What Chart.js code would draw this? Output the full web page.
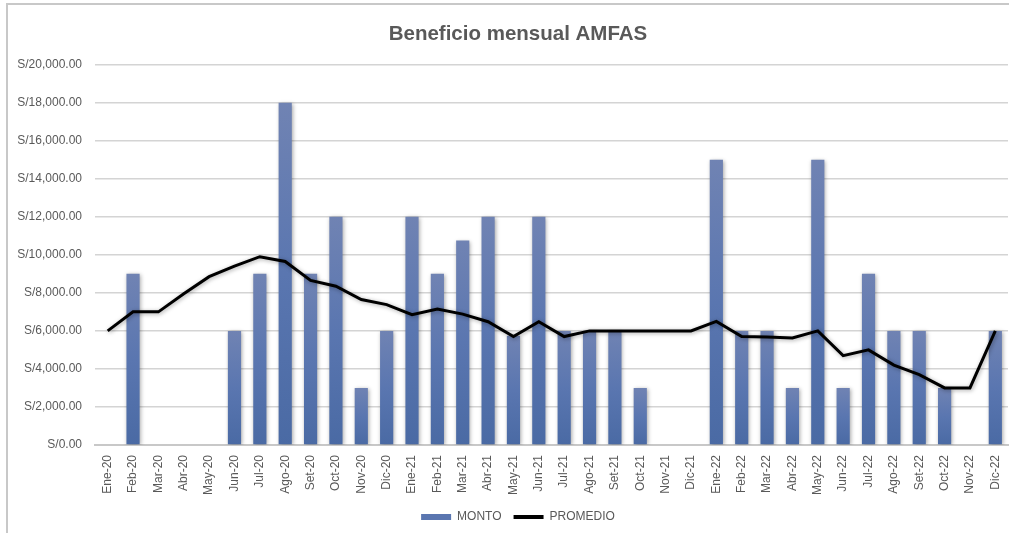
<!DOCTYPE html>
<html>
<head>
<meta charset="utf-8">
<script src="https://cdn.jsdelivr.net/npm/chart.js@4.4.1/dist/chart.umd.min.js"></script>
<style>
  html, body { margin: 0; padding: 0; background: #fff; }
  #wrap { position: relative; width: 1009px; height: 533px; }
  #frame { position: absolute; left: 6px; top: 3px; right: 0; bottom: 0;
           border-top: 2px solid #c8c8c8; border-left: 2px solid #c8c8c8; }
</style>
</head>
<body>
<div id="wrap">
  <div id="frame"></div>
  <canvas id="chart" width="1009" height="533"></canvas>
</div>
<script>
// months Ene-20 .. Dic-22
var months = ['Ene', 'Feb', 'Mar', 'Abr', 'May', 'Jun', 'Jul', 'Ago', 'Set', 'Oct', 'Nov', 'Dic'];
var years = ['20', '21', '22'];
var labels = [];
years.forEach(function (y) {
    months.forEach(function (m) { labels.push(m + '-' + y); });
});

var monto = [
    0, 9000, 0, 0, 0, 6000, 9000, 18000, 9000, 12000, 3000, 6000,
    12000, 9000, 10750, 12000, 5750, 12000, 6000, 6000, 6000, 3000, 0, 0,
    15000, 6000, 6000, 3000, 15000, 3000, 9000, 6000, 6000, 3000, 0, 6000
];
var promedio = [
    6000, 7000, 7000, 7950, 8850, 9400, 9900, 9650, 8650, 8350, 7650, 7380,
    6850, 7150, 6880, 6480, 5700, 6480, 5700, 6000, 6000, 6000, 6000, 6000,
    6500, 5700, 5680, 5630, 6000, 4700, 5000, 4200, 3700, 3000, 3000, 6000
];
var yTicks = [0, 2000, 4000, 6000, 8000, 10000, 12000, 14000, 16000, 18000, 20000];

var FONT = "'Liberation Sans', Arial, sans-serif";
var GREY = '#595959';

function barFill(ctx) {
    var chart = ctx.chart;
    if (!chart.chartArea || ctx.type !== 'data') return '#5a73ab';
    var ys = chart.scales.y;
    var top = ys.getPixelForValue(ctx.raw || 0);
    var bottom = ys.getPixelForValue(0);
    if (bottom - top < 1) return '#5a73ab';
    var g = chart.ctx.createLinearGradient(0, top, 0, bottom);
    g.addColorStop(0, '#7083b3');
    g.addColorStop(0.5, '#5a76b0');
    g.addColorStop(1, '#4a6aa4');
    return g;
}

// soft drop shadow like the spreadsheet
var shadowPlugin = {
    id: 'shadow',
    beforeDatasetDraw: function (chart) {
        var c = chart.ctx;
        c.save();
        c.shadowColor = 'rgba(0,0,0,0.35)';
        c.shadowBlur = 4;
        c.shadowOffsetX = 1;
        c.shadowOffsetY = 1;
    },
    afterDatasetDraw: function (chart) {
        chart.ctx.restore();
    }
};

// title and legend sit a bit right of the canvas centre in the original
var nudgePlugin = {
    id: 'nudge',
    afterLayout: function (chart) {
        [chart.titleBlock, chart.legend].forEach(function (b) {
            if (!b) return;
            b.left += 14;
            b.right += 14;
        });
    }
};

new Chart(document.getElementById('chart'), {
    type: 'bar',
    data: {
        labels: labels,
        datasets: [{
            label: 'MONTO',
            data: monto,
            backgroundColor: barFill,
            barPercentage: 0.52,
            categoryPercentage: 1,
            order: 2
        }, {
            type: 'line',
            label: 'PROMEDIO',
            data: promedio,
            borderColor: '#000',
            backgroundColor: '#000',
            borderWidth: 3,
            pointRadius: 0,
            tension: 0,
            order: 1
        }]
    },
    options: {
        responsive: false,
        animation: false,
        layout: { padding: { left: 0, right: 1, top: 0, bottom: 0 } },
        plugins: {
            title: {
                display: true,
                text: 'Beneficio mensual AMFAS',
                color: GREY,
                font: { family: FONT, size: 20.5, weight: 'bold' },
                padding: { top: 22, bottom: 18 }
            },
            legend: {
                position: 'bottom',
                labels: {
                    color: GREY,
                    font: { family: FONT, size: 12 },
                    usePointStyle: true,
                    pointStyleWidth: 30,
                    boxHeight: 6,
                    padding: 12,
                    sort: function (a, b) { return a.datasetIndex - b.datasetIndex; },
                    generateLabels: function (chart) {
                        var items = Chart.defaults.plugins.legend.labels.generateLabels(chart);
                        items.forEach(function (it) {
                            if (it.datasetIndex === 0) {
                                it.pointStyle = 'rect';
                                it.fillStyle = '#5a76b0';
                                it.strokeStyle = '#5a76b0';
                                it.lineWidth = 0;
                            } else {
                                it.pointStyle = 'line';
                                it.strokeStyle = '#000';
                                it.lineWidth = 4;
                            }
                        });
                        return items;
                    }
                }
            },
            tooltip: { enabled: false }
        },
        scales: {
            x: {
                grid: { display: false, drawTicks: false },
                border: { display: true, color: '#c8c8c8', width: 2 },
                ticks: {
                    color: GREY,
                    font: { family: FONT, size: 12 },
                    minRotation: 90,
                    maxRotation: 90,
                    autoSkip: false,
                    padding: 10
                },
                afterFit: function (scale) {
                    scale.height = 54;
                    scale.paddingLeft = 0;
                    scale.paddingRight = 0;
                }
            },
            y: {
                min: 0,
                max: 20000,
                afterBuildTicks: function (scale) {
                    scale.ticks = yTicks.map(function (v) { return { value: v }; });
                },
                grid: { color: '#d4d4d4', lineWidth: 1.5, drawTicks: false },
                border: { display: false },
                ticks: {
                    color: GREY,
                    font: { family: FONT, size: 12 },
                    padding: 13,
                    callback: function (v) {
                        return 'S/' + Number(v).toLocaleString('en-US', { minimumFractionDigits: 2, maximumFractionDigits: 2 });
                    }
                },
                afterFit: function (scale) { scale.width = 95; }
            }
        }
    },
    plugins: [shadowPlugin, nudgePlugin]
});
</script>
</body>
</html>
